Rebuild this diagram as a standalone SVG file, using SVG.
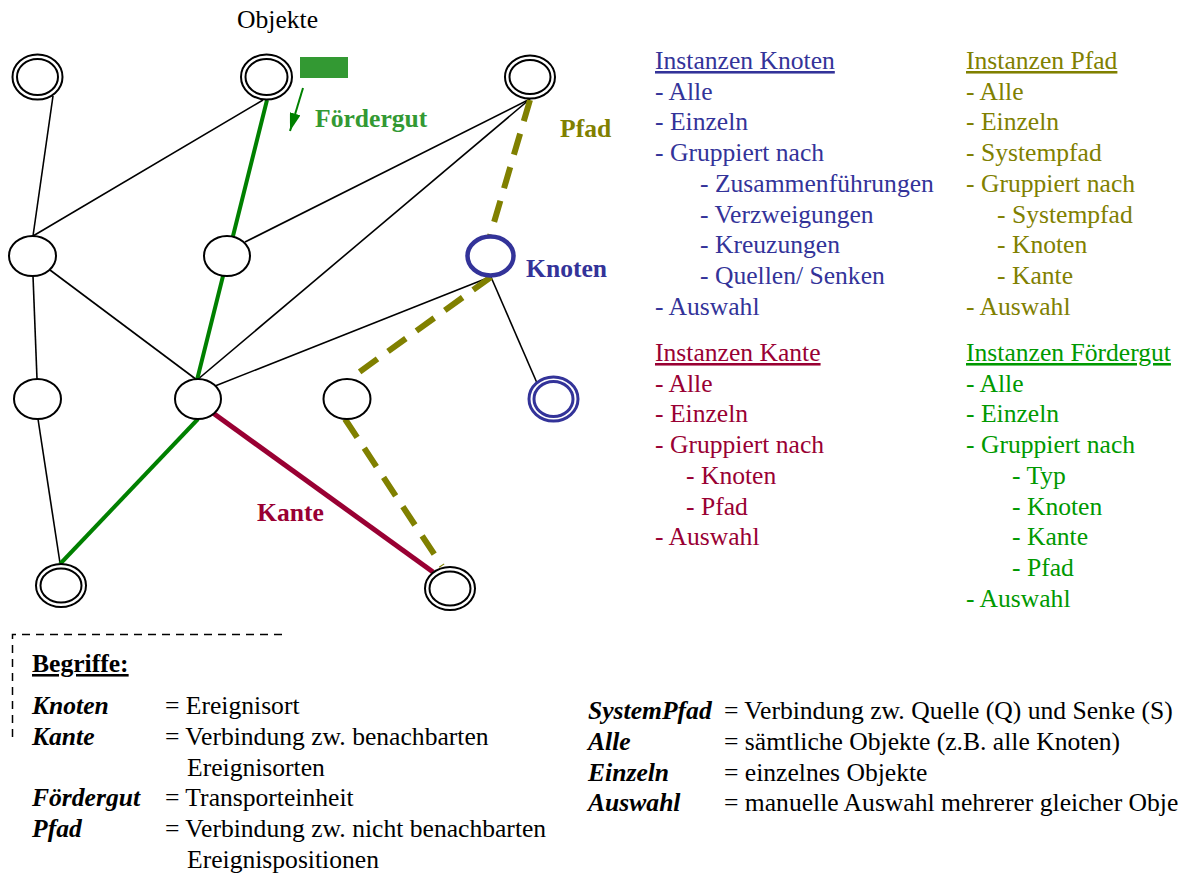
<svg xmlns="http://www.w3.org/2000/svg" width="1181" height="873" viewBox="0 0 1181 873">
<defs>
<style>
text{font-family:"Liberation Serif","Times New Roman",serif;font-size:25.6px}
.b{font-weight:bold}
.bi{font-weight:bold;font-style:italic}
.u{text-decoration:underline}
.blue{fill:#333399}.olive{fill:#808000}.red{fill:#990033}.green{fill:#009900}.lg{fill:#339933}
.n{fill:#fff;stroke:#000;stroke-width:2}
.e{stroke:#000;stroke-width:1.6;fill:none}
</style>
<marker id="ah" viewBox="0 0 18 11" refX="18" refY="5.5" markerWidth="18" markerHeight="11" orient="auto" markerUnits="userSpaceOnUse">
<path d="M0,0 L18,5.5 L0,11 z" fill="#008000"/>
</marker>
</defs>
<rect width="1181" height="873" fill="#fff"/>

<g id="connectors">
<line class="e" x1="53" y1="96" x2="33" y2="236"/>
<line class="e" x1="263" y1="100" x2="33" y2="236"/>
<line class="e" x1="530" y1="99" x2="245" y2="242"/>
<line class="e" x1="530" y1="99" x2="197" y2="380"/>
<line class="e" x1="50" y1="270" x2="197" y2="380"/>
<line class="e" x1="33" y1="276" x2="37" y2="379"/>
<line class="e" x1="38" y1="419" x2="60" y2="563"/>
<line class="e" x1="215" y1="386" x2="490" y2="277"/>
<line class="e" x1="491" y1="277" x2="537" y2="383"/>
<line x1="267" y1="100" x2="197" y2="380" stroke="#008000" stroke-width="4"/>
<line x1="198" y1="419" x2="60" y2="564" stroke="#008000" stroke-width="4"/>
<line x1="213" y1="413" x2="433" y2="572" stroke="#990033" stroke-width="5"/>
<g stroke="#808000" stroke-width="6" stroke-dasharray="22 13" fill="none">
<line x1="530" y1="100" x2="490" y2="236"/>
<line x1="491" y1="277" x2="358" y2="373"/>
<line x1="345" y1="419" x2="442" y2="566"/>
</g>
<line x1="303" y1="88" x2="290" y2="131" stroke="#008000" stroke-width="2" marker-end="url(#ah)"/>
</g>

<g id="n1"><ellipse class="n" cx="37.5" cy="77" rx="25" ry="22.5"/><ellipse class="n" cx="37.5" cy="77" rx="20.5" ry="18"/></g>
<g id="n2"><ellipse class="n" cx="266.5" cy="77" rx="25.5" ry="22.5"/><ellipse class="n" cx="266.5" cy="77" rx="21" ry="18"/></g>
<g id="n3"><ellipse class="n" cx="530" cy="77" rx="25" ry="21.5"/><ellipse class="n" cx="530" cy="77" rx="20.5" ry="17"/></g>
<g id="n4"><ellipse class="n" cx="32.5" cy="256" rx="23.5" ry="20"/></g>
<g id="n5"><ellipse class="n" cx="227" cy="256" rx="23" ry="20"/></g>
<g id="n6"><ellipse class="n" cx="37.5" cy="399" rx="23.5" ry="20"/></g>
<g id="n7"><ellipse class="n" cx="198" cy="399" rx="23" ry="20"/></g>
<g id="n8"><ellipse class="n" cx="347" cy="399" rx="23.5" ry="20"/></g>
<g id="knoten"><ellipse cx="490.5" cy="256" rx="23" ry="19.5" fill="#fff" stroke="#333399" stroke-width="4.5"/></g>
<g id="n-blue2"><ellipse cx="553.5" cy="399" rx="24.5" ry="22" fill="#fff" stroke="#333399" stroke-width="3"/><ellipse cx="553.5" cy="399" rx="19.5" ry="17.5" fill="#fff" stroke="#333399" stroke-width="3"/></g>
<g id="n9"><ellipse class="n" cx="61" cy="585.5" rx="25" ry="21.5"/><ellipse class="n" cx="61" cy="585.5" rx="20.5" ry="17"/></g>
<g id="n10"><ellipse class="n" cx="450" cy="588.5" rx="25" ry="21.5"/><ellipse class="n" cx="450" cy="588.5" rx="20.5" ry="17"/></g>

<g id="foerdergut"><rect x="300" y="57" width="48" height="21" fill="#339933"/></g>

<g id="labels">
<text x="237" y="28">Objekte</text>
<text class="b lg" x="315" y="127">Fördergut</text>
<text class="b olive" x="560" y="137">Pfad</text>
<text class="b blue" x="526" y="277">Knoten</text>
<text class="b red" x="257" y="521">Kante</text>
</g>

<g id="inst-knoten" class="blue">
<text class="u blue" x="655" y="69">Instanzen Knoten</text>
<text class="blue" x="655" y="99.7">- Alle</text>
<text class="blue" x="655" y="130.4">- Einzeln</text>
<text class="blue" x="655" y="161">- Gruppiert nach</text>
<text class="blue" x="700" y="191.8">- Zusammenführungen</text>
<text class="blue" x="700" y="222.5">- Verzweigungen</text>
<text class="blue" x="700" y="253.2">- Kreuzungen</text>
<text class="blue" x="700" y="283.9">- Quellen/ Senken</text>
<text class="blue" x="655" y="314.6">- Auswahl</text>
</g>

<g id="inst-pfad">
<text class="u olive" x="966" y="69">Instanzen Pfad</text>
<text class="olive" x="966" y="99.7">- Alle</text>
<text class="olive" x="966" y="130.4">- Einzeln</text>
<text class="olive" x="966" y="161">- Systempfad</text>
<text class="olive" x="966" y="191.8">- Gruppiert nach</text>
<text class="olive" x="997" y="222.5">- Systempfad</text>
<text class="olive" x="997" y="253.2">- Knoten</text>
<text class="olive" x="997" y="283.9">- Kante</text>
<text class="olive" x="966" y="314.6">- Auswahl</text>
</g>

<g id="inst-kante">
<text class="u red" x="655" y="361">Instanzen Kante</text>
<text class="red" x="655" y="391.7">- Alle</text>
<text class="red" x="655" y="422.4">- Einzeln</text>
<text class="red" x="655" y="453">- Gruppiert nach</text>
<text class="red" x="686" y="483.8">- Knoten</text>
<text class="red" x="686" y="514.5">- Pfad</text>
<text class="red" x="655" y="545.2">- Auswahl</text>
</g>

<g id="inst-foerdergut">
<text class="u green" x="966" y="361">Instanzen Fördergut</text>
<text class="green" x="966" y="391.7">- Alle</text>
<text class="green" x="966" y="422.4">- Einzeln</text>
<text class="green" x="966" y="453">- Gruppiert nach</text>
<text class="green" x="1012" y="483.8">- Typ</text>
<text class="green" x="1012" y="514.5">- Knoten</text>
<text class="green" x="1012" y="545.2">- Kante</text>
<text class="green" x="1012" y="575.9">- Pfad</text>
<text class="green" x="966" y="606.6">- Auswahl</text>
</g>

<g id="begriffe">
<path d="M12.5,737 V634.5 H283" fill="none" stroke="#000" stroke-width="1.5" stroke-dasharray="8 6"/>
<text class="b u" x="32" y="672">Begriffe:</text>
<text class="bi" x="32" y="714">Knoten</text><text x="165" y="714">= Ereignisort</text>
<text class="bi" x="32" y="745">Kante</text><text x="165" y="745">= Verbindung zw. benachbarten</text>
<text x="187" y="775.5">Ereignisorten</text>
<text class="bi" x="32" y="806">Fördergut</text><text x="165" y="806">= Transporteinheit</text>
<text class="bi" x="32" y="837">Pfad</text><text x="165" y="837">= Verbindung zw. nicht benachbarten</text>
<text x="187" y="867.5">Ereignispositionen</text>
</g>

<g id="begriffe2">
<text class="bi" x="588" y="719">SystemPfad</text><text x="724" y="719">= Verbindung zw. Quelle (Q) und Senke (S)</text>
<text class="bi" x="588" y="750">Alle</text><text x="724" y="750">= sämtliche Objekte (z.B. alle Knoten)</text>
<text class="bi" x="588" y="781">Einzeln</text><text x="724" y="781">= einzelnes Objekte</text>
<text class="bi" x="588" y="811">Auswahl</text><text x="724" y="811">= manuelle Auswahl mehrerer gleicher Obje</text>
</g>
</svg>
